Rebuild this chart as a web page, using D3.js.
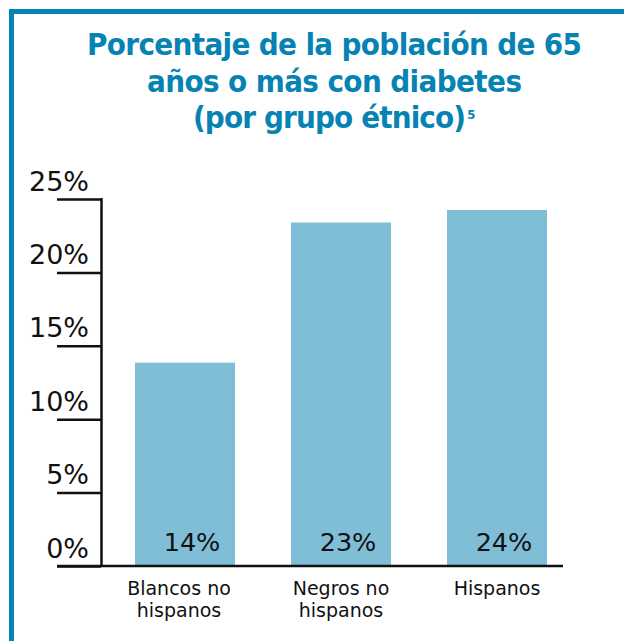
<!DOCTYPE html>
<html>
<head>
<meta charset="utf-8">
<script src="https://cdn.jsdelivr.net/npm/d3@7"></script>
<style>
  html, body { margin: 0; padding: 0; background: #ffffff; }
  svg { display: block; }
</style>
</head>
<body>
<div id="chart"></div>
<script>
// ---- Data ----
const categories = [["Blancos no", "hispanos"], ["Negros no", "hispanos"], ["Hispanos"]];
const categoryKeys = ["Blancos no hispanos", "Negros no hispanos", "Hispanos"];
const values = [13.85, 23.4, 24.25];
const valueLabels = ["14%", "23%", "24%"];
const tickValues = [0, 5, 10, 15, 20, 25];
const tickLabels = ["0%", "5%", "10%", "15%", "20%", "25%"];
const titleLines = ["Porcentaje de la población de 65", "años o más con diabetes", "(por grupo étnico)"];
const titleSup = "5";

// ---- Layout ----
const W = 624, H = 641;
const blue = "#0683b3";
const barColor = "#80bed8";

const svg = d3.select("#chart").append("svg")
  .attr("width", W).attr("height", H);

svg.append("rect").attr("width", W).attr("height", H).attr("fill", "#ffffff");

// Frame (top and left)
svg.append("path")
  .attr("d", `M11.5,${H} L11.5,11.5 L${W},11.5`)
  .attr("fill", "none")
  .attr("stroke", blue)
  .attr("stroke-width", 5);

// Title
const titleG = svg.append("g")
  .attr("font-family", "'Liberation Sans Narrow', 'DejaVu Sans Condensed', sans-serif")
  .attr("font-weight", "bold")
  .attr("font-size", 31)
  .attr("fill", blue);
const titleBaselines = [55, 91.5, 127.5];
const titleLeft = [87, 147, 193];
const titleWidths = [495, 375, 273];
let lastEnd = 466;
titleLines.forEach((t, i) => {
  const el = titleG.append("text")
    .attr("x", titleLeft[i])
    .attr("y", titleBaselines[i])
    .text(t);
  const natural = el.node().getComputedTextLength();
  const n = [...t].length;
  const ls = (titleWidths[i] - natural) / Math.max(1, n - 1);
  el.attr("letter-spacing", ls);
  const bb = el.node().getBBox();
  if (i === titleLines.length - 1) lastEnd = bb.x + bb.width;
});
titleG.append("text")
  .attr("x", lastEnd + 2)
  .attr("y", 119)
  .attr("font-size", 13)
  .text(titleSup);

// Scales
const x = d3.scaleBand()
  .domain(categoryKeys)
  .range([101, 581])
  .paddingInner(0.359)
  .paddingOuter(0.218);

const y = d3.scaleLinear()
  .domain([0, 25])
  .range([566, 199]);

// Bars
svg.append("g").selectAll("rect")
  .data(values)
  .join("rect")
  .attr("x", (d, i) => x(categoryKeys[i]))
  .attr("y", d => y(d))
  .attr("width", x.bandwidth())
  .attr("height", d => y(0) - y(d))
  .attr("fill", barColor);

// Value labels inside bars
svg.append("g").selectAll("text")
  .data(valueLabels)
  .join("text")
  .attr("x", (d, i) => x(categoryKeys[i]) + x.bandwidth() / 2 + 7)
  .attr("y", y(0) - 15.5)
  .attr("text-anchor", "middle")
  .attr("font-family", "'DejaVu Sans', sans-serif")
  .attr("font-size", 25.5)
  .attr("fill", "#111111")
  .text(d => d);

// Y axis
const yAxis = d3.axisLeft(y)
  .tickValues(tickValues)
  .tickSize(44)
  .tickFormat((d, i) => tickLabels[i]);

const yAxisG = svg.append("g")
  .attr("transform", "translate(101,0)")
  .call(yAxis);
yAxisG.select(".domain").remove();
yAxisG.selectAll(".tick line")
  .attr("stroke", "#111111")
  .attr("stroke-width", 2.5);
yAxisG.selectAll(".tick text")
  .attr("x", -12)
  .attr("dy", -9)
  .attr("text-anchor", "end")
  .attr("font-family", "'DejaVu Sans', sans-serif")
  .attr("font-size", 27)
  .attr("fill", "#111111");

// Vertical axis line
svg.append("line")
  .attr("x1", 101.5).attr("x2", 101.5)
  .attr("y1", y(25) - 1).attr("y2", y(0))
  .attr("stroke", "#111111")
  .attr("stroke-width", 2.5);

// Baseline
svg.append("line")
  .attr("x1", 57).attr("x2", 563)
  .attr("y1", y(0)).attr("y2", y(0))
  .attr("stroke", "#111111")
  .attr("stroke-width", 2.5);

// Category labels
const catG = svg.append("g")
  .attr("font-family", "'DejaVu Sans', sans-serif")
  .attr("font-size", 19)
  .attr("fill", "#111111")
  .attr("text-anchor", "middle");
categories.forEach((lines, i) => {
  const t = catG.append("text")
    .attr("x", x(categoryKeys[i]) + x.bandwidth() / 2)
    .attr("y", 595);
  lines.forEach((ln, j) => {
    t.append("tspan")
      .attr("x", x(categoryKeys[i]) + x.bandwidth() / 2 - (i === 0 ? 6 : 0))
      .attr("y", 595 + j * 21.5)
      .text(ln);
  });
});
</script>
</body>
</html>
